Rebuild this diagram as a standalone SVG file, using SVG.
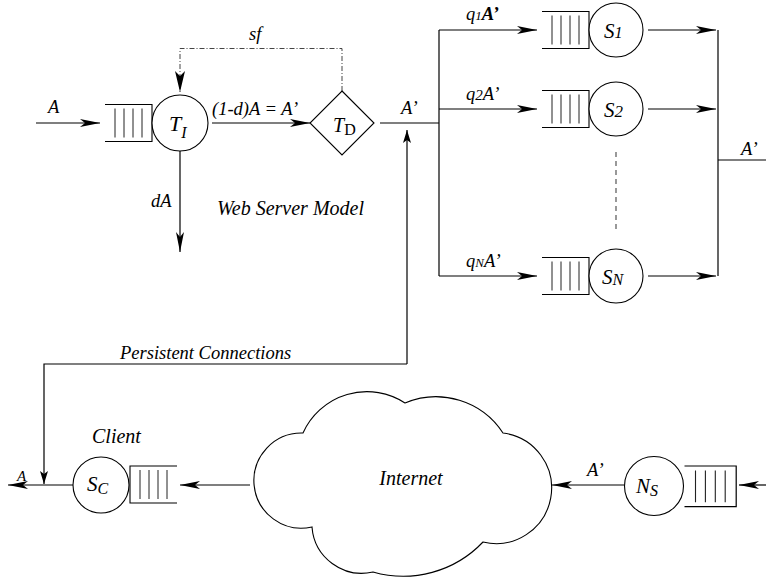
<svg xmlns="http://www.w3.org/2000/svg" xmlns:xlink="http://www.w3.org/1999/xlink" width="766" height="580" viewBox="0 0 766 580">
  <style>
    .ln { fill: none; stroke: #000; stroke-width: 1.2; }
    .node { fill: #fff; stroke: #000; stroke-width: 1.1; }
    .q { fill: none; stroke: #000; stroke-width: 1.1; }
    .qb { fill: none; stroke: #222; stroke-width: 1; }
    .dashdot { fill: none; stroke: #444; stroke-width: 1; stroke-dasharray: 5 2 1 2; }
    .dashed { fill: none; stroke: #555; stroke-width: 1.2; stroke-dasharray: 5 4; }
    text { font-family: "Liberation Serif", "Times New Roman", serif; font-style: italic; fill: #000; }
    .lbl { font-size: 18.5px; }
    .title { font-size: 20px; }
    .big { font-size: 21px; }
    .srv { font-size: 21px; }
  </style>
  <defs>
    <marker id="ah" viewBox="0 0 20 8" refX="20" refY="4" markerWidth="20" markerHeight="8" orient="auto" markerUnits="userSpaceOnUse">
      <path d="M0,0 L20,4 L0,8 L5,4 Z" fill="#000"/>
    </marker>
    <marker id="ahs" viewBox="0 0 13 8" refX="13" refY="4" markerWidth="13" markerHeight="8" orient="auto" markerUnits="userSpaceOnUse">
      <path d="M0,0 L13,4 L0,8 L3,4 Z" fill="#000"/>
    </marker>
    <!-- queue buffer: open on the left, closed against the server on the right -->
    <g id="queue">
      <path class="q" d="M0,0 H47 V37 H0"/>
      <path class="qb" d="M10,4 V33 M19,4 V33 M28,4 V33 M37,4 V33"/>
    </g>
  </defs>

  <!-- connectors -->
  <g id="connectors">
    <line class="ln" x1="36" y1="123" x2="100" y2="123" marker-end="url(#ah)"/>
    <line class="ln" x1="212" y1="123" x2="310" y2="123" marker-end="url(#ah)"/>
    <path class="dashdot" d="M342,91 V48.5 H180 V92"/>
    <path d="M175,71 L180,92 L185,71 L180,76 Z" fill="#000"/>
    <line class="ln" x1="180" y1="151" x2="180" y2="252" marker-end="url(#ah)"/>
    <line class="ln" x1="380" y1="123" x2="439" y2="123"/>
    <path class="ln" d="M439,30 V276"/>
    <line class="ln" x1="439" y1="30" x2="537" y2="30" marker-end="url(#ah)"/>
    <line class="ln" x1="439" y1="109" x2="537" y2="109" marker-end="url(#ah)"/>
    <line class="ln" x1="439" y1="276" x2="537" y2="276" marker-end="url(#ah)"/>
    <line class="ln" x1="648" y1="30" x2="716" y2="30" marker-end="url(#ah)"/>
    <line class="ln" x1="648" y1="109" x2="716" y2="109" marker-end="url(#ah)"/>
    <line class="ln" x1="648" y1="276" x2="716" y2="276" marker-end="url(#ah)"/>
    <path class="ln" d="M718,30 V276"/>
    <line class="ln" x1="718" y1="160" x2="766" y2="160"/>
    <line class="dashed" x1="616" y1="152" x2="616" y2="233"/>
    <path class="ln" d="M407,364 V130" marker-end="url(#ahs)"/>
    <path class="ln" d="M407,364 H44 V484" marker-end="url(#ahs)"/>
    <line class="ln" x1="73" y1="485" x2="8" y2="485" marker-end="url(#ah)"/>
    <line class="ln" x1="250" y1="485" x2="180" y2="485" marker-end="url(#ah)"/>
    <line class="ln" x1="624" y1="485" x2="552" y2="485" marker-end="url(#ah)"/>
    <line class="ln" x1="766" y1="485" x2="739" y2="485" marker-end="url(#ah)"/>
  </g>

  <!-- web server front end: queue + thread pool T_I -->
  <g id="node-TI">
    <use xlink:href="#queue" transform="translate(105,104.5)"/>
    <circle class="node" cx="180" cy="123" r="28"/>
    <text x="169" y="131" font-size="22">T<tspan font-size="16" dy="7">I</tspan></text>
  </g>

  <!-- decision node T_D -->
  <g id="node-TD">
    <path class="node" d="M342,91 L374,123 L342,155 L310,123 Z"/>
    <text x="333" y="132" font-size="20">T<tspan font-style="normal" font-size="16" dy="3">D</tspan></text>
  </g>

  <!-- parallel servers -->
  <g id="node-S1">
    <use xlink:href="#queue" transform="translate(542,11.5)"/>
    <circle class="node" cx="616" cy="30" r="27"/>
    <text class="srv" x="604" y="38">S<tspan font-size="16">1</tspan></text>
  </g>
  <g id="node-S2">
    <use xlink:href="#queue" transform="translate(542,90.5)"/>
    <circle class="node" cx="616" cy="109" r="27"/>
    <text class="srv" x="604" y="117">S<tspan font-size="17">2</tspan></text>
  </g>
  <g id="node-SN">
    <use xlink:href="#queue" transform="translate(542,257.5)"/>
    <circle class="node" cx="616" cy="276" r="27"/>
    <text class="srv" x="602" y="284">S<tspan font-size="16" dy="1">N</tspan></text>
  </g>

  <!-- client -->
  <g id="node-SC">
    <use xlink:href="#queue" transform="translate(177,466) scale(-1,1)"/>
    <circle class="node" cx="101" cy="485" r="28"/>
    <text class="big" x="87" y="491">S<tspan font-size="16" dy="3">C</tspan></text>
  </g>

  <!-- network server -->
  <g id="node-NS">
    <use xlink:href="#queue" transform="translate(684.5,466) scale(1.1,1.1)"/>
    <circle class="node" cx="654" cy="486" r="29.5"/>
    <text class="big" x="636" y="493">N<tspan font-size="16" dy="3">S</tspan></text>
  </g>

  <!-- internet cloud -->
  <g id="node-internet">
    <path class="node" d="M312,527 A47.6,47.6 0 1,1 303,433 A70,70 0 0,1 405,403 A80,80 0 0,1 503,433 A55.5,55.5 0 1,1 483,542 A110,110 0 0,1 373,572 A50,50 0 0,1 312,527 Z"/>
    <text x="411" y="485" font-size="20" text-anchor="middle">Internet</text>
  </g>

  <!-- labels -->
  <g id="labels">
    <text class="lbl" x="48" y="113">A</text>
    <text class="lbl" x="212" y="115">(1-d)A = A’</text>
    <text class="lbl" x="249" y="40">sf</text>
    <text class="lbl" x="151" y="207">dA</text>
    <text class="title" x="217" y="215" font-size="20.5">Web Server Model</text>
    <text class="lbl" x="401" y="114">A’</text>
    <text class="lbl" x="466" y="20">q<tspan font-size="13">1</tspan><tspan font-weight="bold">A’</tspan></text>
    <text class="lbl" x="466" y="100">q<tspan font-size="15">2</tspan>A’</text>
    <text class="lbl" x="466" y="267">q<tspan font-size="13">N</tspan>A’</text>
    <text class="lbl" x="741" y="155">A’</text>
    <text class="lbl" x="120" y="359">Persistent Connections</text>
    <text class="title" x="92" y="443">Client</text>
    <text x="17" y="481" font-size="15">A</text>
    <text class="lbl" x="587" y="476">A’</text>
  </g>
</svg>
